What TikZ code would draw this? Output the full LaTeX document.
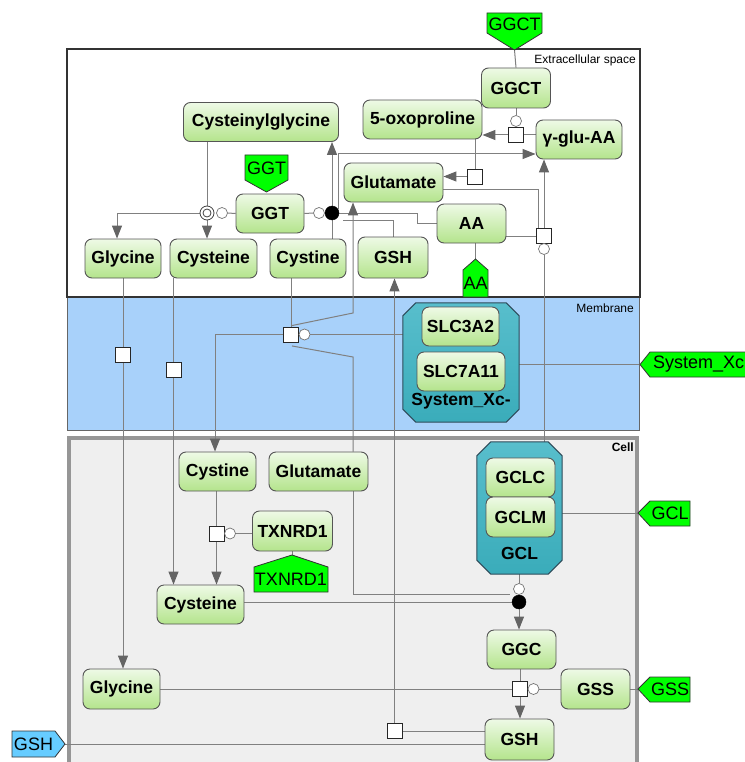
\documentclass[tikz,border=0pt]{standalone}
\usepackage{fontspec}
\setmainfont{Liberation Sans}
\usetikzlibrary{arrows.meta,calc}
\pgfdeclarelayer{back}
\pgfdeclarelayer{edges}
\pgfsetlayers{back,edges,main}

\definecolor{enttop}{RGB}{238,250,230}
\definecolor{entbot}{RGB}{180,228,140}
\definecolor{entborder}{RGB}{85,85,85}
\definecolor{linegray}{RGB}{128,128,128}
\definecolor{arrowgray}{RGB}{100,100,100}
\definecolor{memblue}{RGB}{168,209,250}
\definecolor{cellfill}{RGB}{239,239,239}
\definecolor{cellborder}{RGB}{150,150,150}
\definecolor{cplxtop}{RGB}{88,190,204}
\definecolor{cplxbot}{RGB}{58,172,186}
\definecolor{cplxborder}{RGB}{45,75,90}
\definecolor{taggreen}{RGB}{0,255,0}
\definecolor{tagblue}{RGB}{102,204,255}

% octagonal outline of a complex around a placeholder node
\newcommand\octobox[2]{%
  \path[cplx] ($(#1.north west)+(#2,0)$) -- ($(#1.north east)+(-#2,0)$)
    -- ($(#1.north east)+(0,#2)$) -- ($(#1.south east)+(0,-#2)$)
    -- ($(#1.south east)+(-#2,0)$) -- ($(#1.south west)+(#2,0)$)
    -- ($(#1.south west)+(0,-#2)$) -- ($(#1.north west)+(0,#2)$) -- cycle;}

\begin{document}
\begin{tikzpicture}[x=1pt,y=-1pt,
  entity/.style={draw=entborder, line width=0.9pt, rounded corners=7pt,
    top color=enttop, bottom color=entbot, inner sep=0pt,
    font=\bfseries\fontsize{17.5}{20}\selectfont},
  cplx/.style={draw=cplxborder, line width=1pt, top color=cplxtop, bottom color=cplxbot},
  cplxlabel/.style={inner sep=0pt, font=\bfseries\fontsize{17.5}{20}\selectfont},
  placeholder/.style={inner sep=0pt},
  tagshape/.style={fill=taggreen, draw=black!80, line width=0.8pt},
  bluetag/.style={fill=tagblue, draw=black!80, line width=0.8pt},
  tagtext/.style={inner sep=0pt, font=\fontsize{18}{20}\selectfont},
  link/.style={draw=linegray, line width=1pt},
  arr/.style={link, -{Triangle[length=13pt,width=10pt,color=arrowgray]}},
  proc/.style={draw=black!85, fill=white, minimum size=15pt, inner sep=0pt, line width=0.9pt},
  modc/.style={circle, draw=black!55, fill=white, minimum size=11pt, inner sep=0pt, line width=0.7pt},
  dotc/.style={circle, draw=black, fill=black, minimum size=14pt, inner sep=0pt},
  assocc/.style={circle, draw=black!75, fill=white, minimum size=14pt, inner sep=0pt, line width=0.8pt},
  complab/.style={inner sep=0pt, font=\fontsize{12}{14}\selectfont}
]
\useasboundingbox (0,0) rectangle (744,762);

% ---------- compartments ----------
\begin{pgfonlayer}{back}
  \fill[white] (0,0) rectangle (744,762);
  \path[fill=memblue, draw=black!60, line width=1pt] (67,297) rectangle (639,430);
  \path[fill=white, draw=black!80, line width=1.6pt] (67,49) rectangle (640,297);
  \path[fill=cellfill, draw=cellborder, line width=3.5pt] (69,438) rectangle (637,790);
  \node[complab, anchor=base east] (extlab) at (636,64) {Extracellular space};
  \node[complab, anchor=base east] (memlab) at (634,312) {Membrane};
  \node[complab, anchor=base east, font=\bfseries\fontsize{12}{14}\selectfont] (celllab) at (634,451) {Cell};
\end{pgfonlayer}

% ---------- complexes ----------
\node[placeholder, minimum width=116pt, minimum height=119pt] (sysxc) at (461,362.5) {};
\octobox{sysxc}{13}
\node[placeholder, minimum width=85pt, minimum height=132pt] (gcl) at (519.5,508) {};
\octobox{gcl}{14}
\node[cplxlabel] (sysxclab) at (461,401) {System\_Xc-};
\node[cplxlabel] (gcllab) at (519.5,553) {GCL};

% ---------- extracellular entities ----------
\node[entity, minimum width=155pt, minimum height=39pt] (cysgly) at (261,122) {Cysteinylglycine};
\node[entity, minimum width=119pt, minimum height=39pt] (oxo) at (422.5,119.5) {5-oxoproline};
\node[entity, minimum width=69pt, minimum height=40pt] (ggct) at (516,88) {GGCT};
\node[entity, minimum width=86pt, minimum height=39pt] (gluaa) at (579,139.5) {γ-glu-AA};
\node[entity, minimum width=99pt, minimum height=39pt] (glue) at (393.5,182.5) {Glutamate};
\node[entity, minimum width=69pt, minimum height=39pt] (aae) at (471.5,223.5) {AA};
\node[entity, minimum width=70pt, minimum height=41pt] (gshe) at (393,257.5) {GSH};
\node[entity, minimum width=68pt, minimum height=39pt] (ggt) at (270,213.5) {GGT};
\node[entity, minimum width=76pt, minimum height=39pt] (glye) at (123,258.5) {Glycine};
\node[entity, minimum width=87pt, minimum height=39pt] (cyse) at (213.5,258.5) {Cysteine};
\node[entity, minimum width=76pt, minimum height=39pt] (cyste) at (308,258.5) {Cystine};

% ---------- membrane entities ----------
\node[entity, minimum width=77pt, minimum height=39pt] (slc3a2) at (460.5,326.5) {SLC3A2};
\node[entity, minimum width=88pt, minimum height=39pt] (slc7a11) at (461,371.5) {SLC7A11};

% ---------- cell entities ----------
\node[entity, minimum width=69pt, minimum height=39pt] (gclc) at (520.5,477.5) {GCLC};
\node[entity, minimum width=69pt, minimum height=40pt] (gclm) at (520.5,517) {GCLM};
\node[entity, minimum width=77pt, minimum height=39pt] (cystc) at (217.5,471.5) {Cystine};
\node[entity, minimum width=99pt, minimum height=39pt] (gluc) at (318.5,471.5) {Glutamate};
\node[entity, minimum width=80pt, minimum height=40pt] (txnrd1) at (292.5,531) {TXNRD1};
\node[entity, minimum width=87pt, minimum height=39pt] (cysc) at (200.5,604.5) {Cysteine};
\node[entity, minimum width=77pt, minimum height=40pt] (glyc) at (121.5,689) {Glycine};
\node[entity, minimum width=69pt, minimum height=39pt] (ggc) at (521.5,649.5) {GGC};
\node[entity, minimum width=69pt, minimum height=40pt] (gss) at (595.5,689) {GSS};
\node[entity, minimum width=69pt, minimum height=41pt] (gshc) at (519.5,739.5) {GSH};

% ---------- gene product tags ----------
\filldraw[tagshape] (487,13) -- (542,13) -- (542,33) -- (514.5,50) -- (487,33) -- cycle;
\node[tagtext] (ggcttag) at (514.5,24) {GGCT};
\coordinate (ggcttip) at (514.5,50);

\filldraw[tagshape] (245,155) -- (288,155) -- (288,180) -- (266.5,192) -- (245,180) -- cycle;
\node[tagtext] (ggttag) at (266.5,168) {GGT};

\filldraw[tagshape] (463,297) -- (463,270) -- (475.5,259) -- (488,270) -- (488,297) -- cycle;
\node[tagtext] (aatag) at (475.5,283) {AA};
\coordinate (aatip) at (475.5,259);

\filldraw[tagshape] (254,592) -- (254,567) -- (292,555) -- (328,567) -- (328,592) -- cycle;
\node[tagtext] (txtag) at (291,579) {TXNRD1};
\coordinate (txtip) at (292,555);

\filldraw[tagshape] (640,364.5) -- (650,352) -- (760,352) -- (760,377) -- (650,377) -- cycle;
\node[tagtext, anchor=west] (xctag) at (653,364.5) {System\_Xc};
\coordinate (xctip) at (640,364.5);

\filldraw[tagshape] (638,513) -- (650,501) -- (690,501) -- (690,526) -- (650,526) -- cycle;
\node[tagtext] (gcltag) at (670,513.5) {GCL};
\coordinate (gcltip) at (638,513);

\filldraw[tagshape] (638,689) -- (650,677) -- (690,677) -- (690,702) -- (650,702) -- cycle;
\node[tagtext] (gsstag) at (670,689.5) {GSS};
\coordinate (gsstip) at (638,689);

\filldraw[bluetag] (12,731) -- (55,731) -- (65,744) -- (55,757) -- (12,757) -- cycle;
\node[tagtext] (gshtag) at (33.5,744) {GSH};
\coordinate (gshtip) at (65,744);

% ---------- process glyphs ----------
\node[proc] (pggct) at (516,135) {};
\node[modc] (mggct) at (516,121) {};
\node[proc] (poxo) at (475,176.5) {};
\node[dotc] (dggt) at (332,213) {};
\node[modc] (mggt) at (319,213) {};
\node[assocc] (aggt) at (207,213) {};
\node[circle, draw=black!75, line width=0.8pt, minimum size=8pt, inner sep=0pt] (aggtin) at (207,213) {};
\node[modc] (mggtb) at (222,213) {};
\node[proc] (paa) at (544,236) {};
\node[modc] (maa) at (544,249) {};
\node[proc] (pgly) at (123,355) {};
\node[proc] (pcys) at (173.5,369.5) {};
\node[proc] (pxc) at (291,334.5) {};
\node[modc] (mxc) at (304.5,334.5) {};
\node[proc] (pgsh) at (394.5,731) {};
\node[proc] (ptx) at (216.5,533.5) {};
\node[modc] (mtx) at (230,533.5) {};
\node[dotc] (dgcl) at (519,602) {};
\node[modc] (mgcl) at (519,589) {};
\node[proc] (pgss) at (520,689) {};
\node[modc] (mgss) at (533.5,689) {};

\coordinate (gtl) at (353,357);
\coordinate (gtu) at (353,313);

% ---------- connectors ----------
\begin{pgfonlayer}{edges}
  % GGCT reaction
  \draw[link] (ggcttip) -- (ggct.north);
  \draw[link] (ggct.south) -- (mggct.north);
  \draw[link] (gluaa.west |- pggct) -- (pggct.east);
  \draw[arr] (pggct.west) -- (pggct.west -| oxo.east);
  \draw[link] (oxo.south -| poxo) -- (poxo.north);
  \draw[arr] (poxo.west) -- (poxo.west -| glue.east);
  % GGT reaction
  \draw[arr] (dggt.north) -- (dggt.north |- cysgly.south);
  \draw[link] (cyste.north -| dggt) -- (dggt.south);
  \draw[arr] ($(dggt)+(6,-4)$) |- ($(gluaa.west)+(0,14.5)$);
  \draw[link] (dggt.east) -- ++(78,0) |- (aae.west);
  \draw[link] (gshe.north) |- ($(dggt)+(11,7)$);
  \draw[link] (ggt.east) -- (mggt.west);
  \draw[link] (ggt.west) -- (mggtb.east);
  % dissociation of cysteinylglycine
  \draw[link] (cysgly.south -| aggt) -- (aggt.north);
  \draw[arr] (aggt.south) -- (aggt.south |- cyse.north);
  \draw[arr] (aggt.west) -| ($(glye.north)+(-6,0)$);
  % gamma-glutamyl amino acid formation
  \draw[link] (aae.south -| aatip) -- (aatip);
  \draw[link] (aae.east |- paa) -- (paa.west);
  \draw[link] ($(glue.east)+(0,7)$) -| ($(paa.north)+(-6,0)$);
  \draw[arr] (paa.north) -- (paa.north |- gluaa.south);
  \draw[link] (maa.south) -- (maa.south |- gcl.north);
  % membrane transport
  \draw[link] (glye.south) -- (pgly.north);
  \draw[arr] (pgly.south) -- (pgly.south |- glyc.north);
  \draw[link] (cyse.south -| pcys) -- (pcys.north);
  \draw[arr] (pcys.south) -- (pcys.south |- cysc.north);
  \draw[link] (cyste.south -| pxc) -- (pxc.north);
  \draw[arr] (pxc.west) -| ($(cystc.north)+(-2.5,0)$);
  \draw[link] (mxc.east) -- (mxc.east -| sysxc.west);
  \draw[link] (gluc.north -| gtl) -- (gtl) -- ($(pxc.south)+(1,3.5)$);
  \draw[arr] ($(pxc.north)+(1,-1)$) -- (gtu) -- (gtu |- glue.south);
  \draw[arr] (pgsh.north) -- (pgsh.north |- gshe.south);
  \draw[link] (pgsh.east) -- (pgsh.east -| gshc.west);
  \draw[link] (gshtip) -- (gshtip -| gshc.west);
  \draw[link] (xctip) -- (xctip -| sysxc.east);
  \draw[link] (gcltip) -- (gcltip -| gcl.east);
  \draw[link] (gsstip) -- (gsstip -| gss.east);
  % TXNRD1 reduction
  \draw[link] (cystc.south -| ptx) -- (ptx.north);
  \draw[arr] (ptx.south) -- (ptx.south |- cysc.north);
  \draw[link] (mtx.east) -- (mtx.east -| txnrd1.west);
  \draw[link] (txnrd1.south -| txtip) -- (txtip);
  % GCL and GSS reactions
  \draw[link] (cysc.east |- dgcl) -- (dgcl.west);
  \draw[link] (gluc.south -| gtl) |- ($(dgcl)+(-9,-8)$);
  \draw[link] (gcl.south -| mgcl) -- (mgcl.north);
  \draw[arr] (dgcl.south) -- (dgcl.south |- ggc.north);
  \draw[link] (ggc.south -| pgss) -- (pgss.north);
  \draw[arr] (pgss.south) -- (pgss.south |- gshc.north);
  \draw[link] (mgss.east) -- (mgss.east -| gss.west);
  \draw[link] (glyc.east) -- (glyc.east -| pgss.west);
\end{pgfonlayer}
\end{tikzpicture}
\end{document}
